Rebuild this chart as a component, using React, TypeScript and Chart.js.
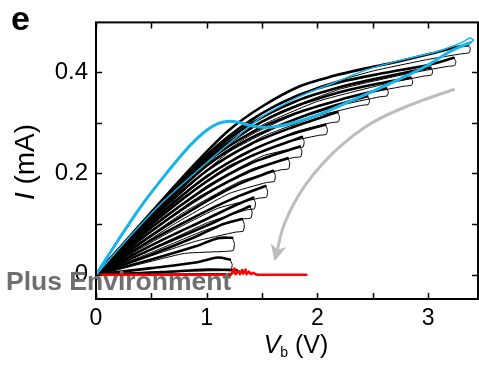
import React, { useEffect, useRef } from 'react';
import { Chart, registerables } from 'chart.js';

Chart.register(...registerables);

const FONT = "'Liberation Sans', Arial, Helvetica, sans-serif";

// ---- axes ----
const xMin = 0;
const xMax = 3.45;
const yMin = -0.048;
const yMax = 0.498;
const xLabelVals = [0, 1, 2, 3];
const xLabelText = ['0', '1', '2', '3'];
const yLabelVals = [0, 0.2, 0.4];
const yLabelText = ['0', '0.2', '0.4'];

// ---- cyan curve (forward thick, return thin) ----
const cyanFwd = [[0, 0], [0.2, 0.068], [0.4, 0.133], [0.6, 0.19], [0.8, 0.243], [0.9, 0.266], [1.0, 0.285], [1.1, 0.298], [1.2, 0.303], [1.3, 0.3], [1.4, 0.294], [1.5, 0.291], [1.62, 0.292], [1.75, 0.298], [2.0, 0.315], [2.25, 0.338], [2.5, 0.362], [2.75, 0.387], [3.0, 0.414], [3.17, 0.437], [3.3, 0.451], [3.38, 0.458]];
const cyanRet = [[3.38, 0.458], [3.41, 0.463], [3.38, 0.467], [3.3, 0.458], [3.17, 0.447], [3.04, 0.438], [2.75, 0.423], [2.45, 0.405], [2.14, 0.378], [1.84, 0.352], [1.5, 0.312], [1.17, 0.253], [0.6, 0.143], [0.3, 0.074], [0, 0]];

// ---- red curve ----
const redV = [0, 1.22, 1.25, 1.26, 1.29, 1.3, 1.32, 1.33, 1.35, 1.36, 1.38, 1.4, 1.42, 1.44, 1.46, 1.9];
const redI = [0, 0, 0.012, 0.001, 0.007, 0.001, 0.009, 0.002, 0.01, 0.001, 0.006, 0.001, 0.004, 0.001, 0, 0];

// ---- black I-V loops: forward sweep (thick) and return sweep (thin) ----
const c01Fwd = [[0, 0], [0.3, 0.074], [0.6, 0.148], [0.9, 0.22], [1.2, 0.285], [1.5, 0.332], [1.84, 0.372], [2.14, 0.392], [2.45, 0.408], [2.75, 0.422], [3.04, 0.437], [3.25, 0.449], [3.36, 0.453]];
const c01Ret = [[3.36, 0.453], [3.38, 0.447], [3.37, 0.438], [3.3, 0.436], [3.0, 0.425], [2.5, 0.402], [2.0, 0.37], [1.5, 0.318], [1.0, 0.232], [0.5, 0.12], [0, 0]];
const c02Fwd = [[0, 0], [0.5, 0.122], [1.0, 0.236], [1.4, 0.305], [1.8, 0.352], [2.2, 0.38], [2.6, 0.398], [3.0, 0.414], [3.23, 0.428]];
const c02Ret = [[3.23, 0.428], [3.25, 0.421], [3.24, 0.413], [3.17, 0.411], [2.8, 0.396], [2.2, 0.366], [1.6, 0.315], [1.0, 0.226], [0.5, 0.116], [0, 0]];
const c03Fwd = [[0, 0], [0.5, 0.121], [1.0, 0.232], [1.4, 0.298], [1.8, 0.342], [2.2, 0.37], [2.6, 0.39], [3.02, 0.409]];
const c03Ret = [[3.02, 0.409], [3.04, 0.402], [3.03, 0.394], [2.96, 0.392], [2.6, 0.376], [2.0, 0.342], [1.5, 0.295], [1.0, 0.222], [0.5, 0.113], [0, 0]];
const c04Fwd = [[0, 0], [0.5, 0.119], [1.0, 0.228], [1.4, 0.29], [1.8, 0.332], [2.2, 0.36], [2.5, 0.375], [2.84, 0.389]];
const c04Ret = [[2.84, 0.389], [2.86, 0.382], [2.85, 0.374], [2.78, 0.372], [2.4, 0.356], [1.9, 0.326], [1.4, 0.276], [1.0, 0.217], [0.5, 0.11], [0, 0]];
const c05Fwd = [[0, 0], [0.5, 0.117], [1.0, 0.222], [1.4, 0.28], [1.8, 0.318], [2.2, 0.345], [2.62, 0.368]];
const c05Ret = [[2.62, 0.368], [2.64, 0.361], [2.63, 0.353], [2.56, 0.351], [2.2, 0.334], [1.7, 0.298], [1.2, 0.242], [0.6, 0.13], [0, 0]];
const c06Fwd = [[0, 0], [0.5, 0.114], [1.0, 0.215], [1.4, 0.27], [1.8, 0.307], [2.1, 0.33], [2.45, 0.352]];
const c06Ret = [[2.45, 0.352], [2.47, 0.345], [2.46, 0.336], [2.39, 0.334], [2.0, 0.313], [1.5, 0.272], [1.0, 0.205], [0.5, 0.106], [0, 0]];
const c07Fwd = [[0, 0], [0.5, 0.11], [1.0, 0.205], [1.4, 0.258], [1.8, 0.293], [2.18, 0.321]];
const c07Ret = [[2.18, 0.321], [2.2, 0.312], [2.19, 0.302], [2.12, 0.3], [1.8, 0.282], [1.3, 0.236], [0.8, 0.16], [0.4, 0.085], [0, 0]];
const c08Fwd = [[0, 0], [0.5, 0.104], [1.0, 0.194], [1.4, 0.245], [1.75, 0.276], [2.07, 0.296]];
const c08Ret = [[2.07, 0.296], [2.09, 0.287], [2.08, 0.277], [2.01, 0.275], [1.7, 0.26], [1.2, 0.215], [0.7, 0.138], [0, 0]];
const c09Fwd = [[0, 0], [0.5, 0.099], [1.0, 0.184], [1.4, 0.234], [1.86, 0.272]];
const c09Ret = [[1.86, 0.272], [1.88, 0.263], [1.87, 0.252], [1.8, 0.25], [1.5, 0.234], [1.0, 0.175], [0.5, 0.093], [0, 0]];
const c10Fwd = [[0, 0], [0.5, 0.093], [1.0, 0.172], [1.4, 0.22], [1.84, 0.253]];
const c10Ret = [[1.84, 0.253], [1.86, 0.244], [1.85, 0.233], [1.78, 0.231], [1.4, 0.208], [0.9, 0.15], [0.4, 0.07], [0, 0]];
const c11Fwd = [[0, 0], [0.5, 0.086], [1.0, 0.16], [1.4, 0.205], [1.73, 0.23]];
const c11Ret = [[1.73, 0.23], [1.75, 0.221], [1.74, 0.209], [1.67, 0.207], [1.3, 0.184], [0.8, 0.124], [0.4, 0.064], [0, 0]];
const c12Fwd = [[0, 0], [0.5, 0.077], [1.0, 0.145], [1.3, 0.18], [1.6, 0.205]];
const c12Ret = [[1.6, 0.205], [1.62, 0.196], [1.61, 0.184], [1.54, 0.182], [1.2, 0.16], [0.7, 0.099], [0, 0]];
const c13Fwd = [[0, 0], [0.5, 0.068], [1.0, 0.126], [1.3, 0.156], [1.53, 0.175]];
const c13Ret = [[1.53, 0.175], [1.55, 0.165], [1.54, 0.153], [1.47, 0.151], [1.1, 0.131], [0.6, 0.076], [0, 0]];
const c14Fwd = [[0, 0], [0.5, 0.058], [1.0, 0.11], [1.25, 0.136], [1.42, 0.152]];
const c14Ret = [[1.42, 0.152], [1.44, 0.142], [1.43, 0.13], [1.36, 0.128], [1.0, 0.102], [0.5, 0.051], [0, 0]];
const c15Fwd = [[0, 0], [0.5, 0.05], [1.0, 0.097], [1.25, 0.122], [1.39, 0.135]];
const c15Ret = [[1.39, 0.135], [1.41, 0.124], [1.4, 0.112], [1.33, 0.11], [1.0, 0.089], [0.5, 0.044], [0, 0]];
const c16Fwd = [[0, 0], [0.5, 0.04], [0.9, 0.075], [1.15, 0.1], [1.32, 0.11]];
const c16Ret = [[1.32, 0.11], [1.34, 0.099], [1.33, 0.086], [1.26, 0.084], [0.9, 0.066], [0.4, 0.03], [0, 0]];
const c17Fwd = [[0, 0], [0.5, 0.03], [0.9, 0.056], [1.1, 0.072], [1.23, 0.073]];
const c17Ret = [[1.23, 0.073], [1.25, 0.062], [1.24, 0.048], [1.17, 0.046], [0.8, 0.042], [0.4, 0.021], [0, 0]];
const c18Fwd = [[0, 0], [0.5, 0.013], [0.9, 0.024], [1.1, 0.034], [1.21, 0.03]];
const c18Ret = [[1.21, 0.03], [1.23, 0.02], [1.22, 0.01], [1.15, 0.008], [0.7, 0.007], [0, 0]];
const c19Fwd = [[0, 0], [0.6, 0.005], [1.0, 0.01], [1.27, 0.009]];
const c19Ret = [[1.27, 0.009], [1.28, 0.003], [0.8, 0.002], [0, 0]];

const blackLoops = [
  [c01Fwd, c01Ret], [c02Fwd, c02Ret], [c03Fwd, c03Ret], [c04Fwd, c04Ret], [c05Fwd, c05Ret],
  [c06Fwd, c06Ret], [c07Fwd, c07Ret], [c08Fwd, c08Ret], [c09Fwd, c09Ret], [c10Fwd, c10Ret],
  [c11Fwd, c11Ret], [c12Fwd, c12Ret], [c13Fwd, c13Ret], [c14Fwd, c14Ret], [c15Fwd, c15Ret],
  [c16Fwd, c16Ret], [c17Fwd, c17Ret], [c18Fwd, c18Ret], [c19Fwd, c19Ret],
];

// ---- grey guide arrow (data coordinates) ----
const arrowV = [3.24, 2.66, 2.21, 1.87, 1.69, 1.645, 1.612];
const arrowI = [0.366, 0.325, 0.259, 0.176, 0.099, 0.055, 0.026];

const CYAN = '#17b4e9';

const pts = (a: number[][]) => a.map(([x, y]) => ({ x, y }));

function line(data: { x: number; y: number }[], color: string, width: number, tension: number) {
  return {
    data,
    borderColor: color,
    backgroundColor: color,
    borderWidth: width,
    pointRadius: 0,
    tension,
    fill: false,
    borderJoinStyle: 'round' as const,
    borderCapStyle: 'round' as const,
  };
}

const decorPlugin = {
  id: 'decor',
  afterDatasetsDraw(chart: any) {
    const { ctx, scales } = chart;
    const xs = scales.x;
    const ys = scales.y;
    const p = arrowV.map((v, i) => [xs.getPixelForValue(v), ys.getPixelForValue(arrowI[i])]);
    const n = p.length;
    const tip = p[n - 1];
    const prev = p[n - 2];
    let dx = tip[0] - prev[0];
    let dy = tip[1] - prev[1];
    const len = Math.hypot(dx, dy);
    dx /= len; dy /= len;
    const headLen = 17;
    const halfW = 8;
    const baseX = tip[0] - dx * headLen;
    const baseY = tip[1] - dy * headLen;
    ctx.save();
    ctx.strokeStyle = '#bdbdbd';
    ctx.fillStyle = '#bdbdbd';
    ctx.lineWidth = 3;
    ctx.beginPath();
    ctx.moveTo(p[0][0], p[0][1]);
    for (let i = 1; i < n - 2; i++) {
      const mx = (p[i][0] + p[i + 1][0]) / 2;
      const my = (p[i][1] + p[i + 1][1]) / 2;
      ctx.quadraticCurveTo(p[i][0], p[i][1], mx, my);
    }
    ctx.lineTo(tip[0] - dx * 12, tip[1] - dy * 12);
    ctx.stroke();
    ctx.beginPath();
    ctx.moveTo(tip[0], tip[1]);
    ctx.lineTo(baseX - dy * halfW, baseY + dx * halfW);
    ctx.lineTo(tip[0] - dx * 12, tip[1] - dy * 12);
    ctx.lineTo(baseX + dy * halfW, baseY - dx * halfW);
    ctx.closePath();
    ctx.fill();
    ctx.restore();
  },
  afterDraw(chart: any) {
    const { ctx, chartArea, scales } = chart;
    const { left, right, top, bottom } = chartArea;
    ctx.save();
    // frame
    ctx.strokeStyle = '#000';
    ctx.lineWidth = 2;
    ctx.strokeRect(left, top, right - left, bottom - top);
    // inward ticks
    ctx.lineWidth = 1.5;
    ctx.beginPath();
    for (const t of scales.x.ticks) {
      const px = Math.round(scales.x.getPixelForValue(t.value)) + 0.5;
      ctx.moveTo(px, bottom); ctx.lineTo(px, bottom - 6);
      ctx.moveTo(px, top); ctx.lineTo(px, top + 6);
    }
    for (const t of scales.y.ticks) {
      const py = Math.round(scales.y.getPixelForValue(t.value)) + 0.5;
      ctx.moveTo(left, py); ctx.lineTo(left + 6, py);
      ctx.moveTo(right, py); ctx.lineTo(right - 6, py);
    }
    ctx.stroke();

    ctx.fillStyle = '#000';
    ctx.textBaseline = 'alphabetic';
    ctx.textAlign = 'left';
    // y title: I (mA)
    ctx.save();
    ctx.translate(34, 162);
    ctx.rotate(-Math.PI / 2);
    ctx.font = `italic 28px ${FONT}`;
    const wI = ctx.measureText('I').width;
    ctx.font = `28px ${FONT}`;
    const wRest = ctx.measureText(' (mA)').width;
    const sx = -(wI + wRest) / 2;
    ctx.font = `italic 28px ${FONT}`;
    ctx.fillText('I', sx, 0);
    ctx.font = `28px ${FONT}`;
    ctx.fillText(' (mA)', sx + wI, 0);
    ctx.restore();

    // x title: V_b (V)
    ctx.font = `italic 25px ${FONT}`;
    const wV = ctx.measureText('V').width;
    ctx.font = `14px ${FONT}`;
    const wb = ctx.measureText('b').width;
    ctx.font = `25px ${FONT}`;
    const wP = ctx.measureText(' (V)').width;
    const tx = 296 - (wV + wb + wP) / 2;
    ctx.font = `italic 25px ${FONT}`;
    ctx.fillText('V', tx, 353);
    ctx.font = `14px ${FONT}`;
    ctx.fillText('b', tx + wV, 357);
    ctx.font = `25px ${FONT}`;
    ctx.fillText(' (V)', tx + wV + wb, 353);

    // panel letter
    ctx.font = `bold 34px ${FONT}`;
    ctx.fillText('e', 11, 30);

    // watermark
    ctx.fillStyle = '#6f6f6f';
    ctx.font = `bold 26.5px ${FONT}`;
    ctx.fillText('Plus Environment', 6, 290);
    ctx.restore();
  },
};

export default function App() {
  const ref = useRef<HTMLCanvasElement>(null);
  useEffect(() => {
    const datasets: any[] = [];
    datasets.push(line(pts(cyanFwd), CYAN, 3, 0.3));
    datasets.push(line(pts(cyanRet), CYAN, 1.5, 0.2));
    datasets.push(line(redV.map((v, i) => ({ x: v, y: redI[i] })), '#ff0000', 2.5, 0));
    for (const [f, r] of blackLoops) {
      datasets.push(line(pts(f), '#000000', 2.6, 0.3));
      datasets.push(line(pts(r), '#000000', 1, 0.15));
    }
    const chart = new Chart(ref.current as HTMLCanvasElement, {
      type: 'line',
      data: { datasets },
      options: {
        animation: false,
        responsive: false,
        devicePixelRatio: 1,
        layout: { padding: { top: 16, right: 1, left: 0, bottom: 0 } },
        plugins: { legend: { display: false }, tooltip: { enabled: false } },
        scales: {
          x: {
            type: 'linear',
            min: xMin,
            max: xMax,
            afterFit: (s: any) => { s.height = 72; },
            grid: { display: false, drawTicks: false },
            border: { display: false },
            ticks: {
              stepSize: 0.5,
              includeBounds: false,
              autoSkip: false,
              maxRotation: 0,
              padding: 6,
              color: '#000',
              font: { family: FONT, size: 23 },
              callback: (v: any) => {
                const k = xLabelVals.findIndex((q) => Math.abs(q - Number(v)) < 1e-6);
                return k >= 0 ? xLabelText[k] : '';
              },
            },
          },
          y: {
            type: 'linear',
            min: yMin,
            max: yMax,
            afterFit: (s: any) => { s.width = 96; },
            grid: { display: false, drawTicks: false },
            border: { display: false },
            ticks: {
              stepSize: 0.1,
              includeBounds: false,
              autoSkip: false,
              padding: 8,
              color: '#000',
              font: { family: FONT, size: 24 },
              callback: (v: any) => {
                const k = yLabelVals.findIndex((q) => Math.abs(q - Number(v)) < 1e-6);
                return k >= 0 ? yLabelText[k] : '';
              },
            },
          },
        },
      },
      plugins: [decorPlugin],
    });
    return () => chart.destroy();
  }, []);
  return (
    <div style={{ position: 'absolute', left: 0, top: 0, width: 479, height: 371, background: '#fff' }}>
      <canvas ref={ref} width={479} height={371} style={{ display: 'block', width: 479, height: 371 }} />
    </div>
  );
}
